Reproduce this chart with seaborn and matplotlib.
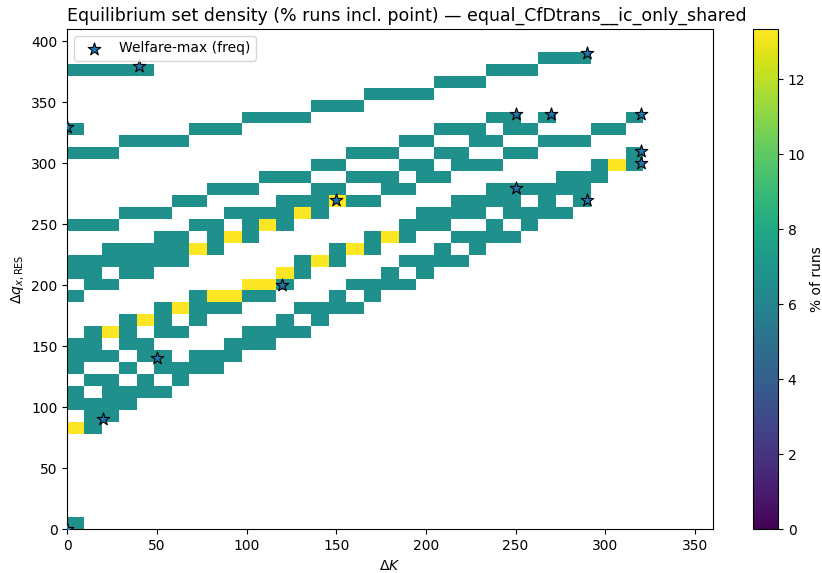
import numpy as np
import matplotlib
matplotlib.use("Agg")
import matplotlib.pyplot as plt
import seaborn as sns

n_runs = 15
dK_values = np.arange(0, 370, 10)   # 37 grid columns
dq_values = np.arange(0, 420, 10)   # 42 grid rows

# runs containing each grid point, top row (dq=410) first, columns dK=0..360
count_rows = [
    ".......... .......... .......... .......",  # 410
    ".......... .......... .......... .......",  # 400
    ".......... .......... .......111 .......",  # 390
    "11111..... .......... ....111... .......",  # 380
    ".......... .......... .111...... .......",  # 370
    ".......... .......111 1......... .......",  # 360
    ".......... ....111... .......... .......",  # 350
    ".......... 1111...... ....11.1.. ..1....",  # 340
    "1......111 .......... .111.11... 11.....",  # 330
    "...1111... .........1 1..11..111 .......",  # 320
    "111....... ......111. .11..11... ..1....",  # 310
    ".......... ....11...1 1.111..... 121....",  # 300
    ".......... .111..111. 11......11 1......",  # 290
    "........11 1...11..11 ....111111 .......",  # 280
    "......11.. ..111211.. ..1111.1.1 .......",  # 270
    "...111...1 11121..... 1111.1111. .......",  # 260
    "111....11. 121......1 11..1.1... .......",  # 250
    ".....11.12 1......121 ..1111.... .......",  # 240
    "..1111121. .....121.. .1.1...... .......",  # 230
    "1111111... ...121...1 111....... .......",  # 220
    "11.11..... ..21....1. 1......... .......",  # 210
    ".11....... 221...1111 .......... .......",  # 200
    "1......122 11...1.1.. .......... .......",  # 190
    ".....12111 ...1111... .......... .......",  # 180
    "...121.1.. ..1.1..... .......... .......",  # 170
    ".121.11... 1111...... .......... .......",  # 160
    "11.11....1 11........ .......... .......",  # 150
    "111.11.111 .......... .......... .......",  # 140
    "1..1.1111. .......... .......... .......",  # 130
    ".11.1.1... .......... .......... .......",  # 120
    "1.1111.... .......... .......... .......",  # 110
    "1111...... .......... .......... .......",  # 100
    ".11....... .......... .......... .......",  # 90
    "21........ .......... .......... .......",  # 80
    ".......... .......... .......... .......",  # 70
    ".......... .......... .......... .......",  # 60
    ".......... .......... .......... .......",  # 50
    ".......... .......... .......... .......",  # 40
    ".......... .......... .......... .......",  # 30
    ".......... .......... .......... .......",  # 20
    ".......... .......... .......... .......",  # 10
    "1......... .......... .......... .......",  # 0
]

welfare_K = [0, 20, 50, 120, 150, 0, 40, 290, 250, 270, 320, 320, 320, 250, 290]
welfare_q = [0, 90, 140, 200, 270, 330, 380, 390, 340, 340, 340, 310, 300, 280, 270]

counts = np.array([[0 if c == "." else int(c) for c in r.replace(" ", "")]
                   for r in count_rows[::-1]], dtype=float)
density = np.ma.masked_equal(counts / n_runs * 100, 0)

fig = plt.figure(figsize=(8.22, 5.73), dpi=100)
ax = fig.add_axes([0.0819, 0.0763, 0.7852, 0.8731])
cax = fig.add_axes([0.9161, 0.0763, 0.0304, 0.8731])

im = ax.imshow(density, origin="lower", aspect="auto", cmap="viridis",
               vmin=0, vmax=200 / n_runs, interpolation="nearest",
               extent=[dK_values.min(), dK_values.max(),
                       dq_values.min(), dq_values.max()])

sns.scatterplot(x=welfare_K, y=welfare_q, marker="*", s=90,
                color="#1f77b4", edgecolor="black", linewidth=0.8,
                label="Welfare-max (freq)", ax=ax, zorder=3)

ax.set_xlim(dK_values.min(), dK_values.max())
ax.set_ylim(dq_values.min(), dq_values.max())
ax.set_xlabel(r"$\Delta K$")
ax.set_ylabel(r"$\Delta q_{x,\mathrm{RES}}$")
ax.set_title("Equilibrium set density (% runs incl. point) — equal_CfDtrans__ic_only_shared",
             fontsize=12.5, loc="left")
ax.legend(loc="upper left")

cb = fig.colorbar(im, cax=cax)
cb.set_label("% of runs", labelpad=3)

fig.savefig("out.png", dpi=100)
